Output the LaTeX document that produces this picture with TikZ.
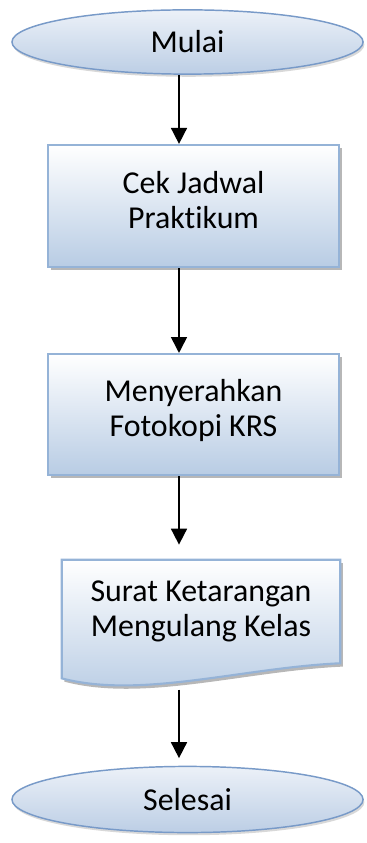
\documentclass[tikz,border=0pt]{standalone}
\usepackage{fontspec}
\setmainfont{Carlito}[Ligatures=NoCommon]
\usetikzlibrary{arrows.meta,shapes.geometric,shadows,backgrounds}
\definecolor{boxline}{RGB}{149,179,215}
\definecolor{boxfill}{RGB}{184,204,228}
\definecolor{ovalline}{RGB}{120,154,200}
\definecolor{ovaltop}{RGB}{236,241,248}
\definecolor{ovalfill}{RGB}{188,206,229}
\begin{document}
\begin{tikzpicture}[
        font=\fontsize{24}{26}\selectfont,
        oval/.style={ellipse,draw=ovalline,line width=1.1pt,top color=ovaltop,bottom color=ovalfill,
            inner sep=0pt,minimum width=9.29cm,minimum height=1.7cm,
            drop shadow={shadow xshift=1pt,shadow yshift=-2pt,fill=gray!60,opacity=.5}},
        process/.style={rectangle,draw=boxline,line width=1.6pt,top color=white,bottom color=boxfill,
            inner sep=0pt,align=center,minimum width=7.7cm,
            drop shadow={shadow xshift=2pt,shadow yshift=-2.5pt,fill=gray!80,opacity=.7}},
        docbox/.style={draw=boxline,line width=1.6pt,top color=white,bottom color=boxfill,
            drop shadow={shadow xshift=2pt,shadow yshift=-2.5pt,fill=gray!80,opacity=.7}},
        flow/.style={-{Triangle[length=12pt,width=12pt]},line width=1.3pt}]
        \useasboundingbox (0,0) rectangle (9.684,-22.304);
        \coordinate (axis) at (4.736,0);

        \node[oval] (mulai) at (4.961,-1.111){Mulai};
        \node[process,minimum height=3.23cm] (cek) at (5.12,-5.45){Cek Jadwal\\Praktikum\\[-17pt]\mbox{}};
        \node[process,minimum height=3.2cm] (krs) at (5.12,-10.967){Menyerahkan\\Fotokopi KRS\\[-16pt]\mbox{}};
        \node[align=center,inner sep=0pt,minimum width=7.355cm,minimum height=2.725cm] (surat) at (5.318,-16.179){Surat Ketarangan\\Mengulang Kelas};
        \node[oval,minimum height=1.75cm] (selesai) at (4.961,-21.153){Selesai};

        \begin{scope}[on background layer]
            \draw[docbox] (surat.north west) -- ([yshift=-0.4cm]surat.south west)
                .. controls +(2.1,-0.55) and +(-2.6,-0.12) .. (surat.south east) -- (surat.north east) -- cycle;
        \end{scope}

        \draw[flow] (mulai.south -| axis) -- (cek.north -| axis);
        \draw[flow] (cek.south -| axis) -- (krs.north -| axis);
        \draw[flow,shorten >=0.4cm] (krs.south -| axis) -- (surat.north -| axis);
        \draw[flow,shorten <=0.7cm,shorten >=0.2cm] (surat.south -| axis) -- (selesai.north -| axis);
    \end{tikzpicture}
\end{document}
